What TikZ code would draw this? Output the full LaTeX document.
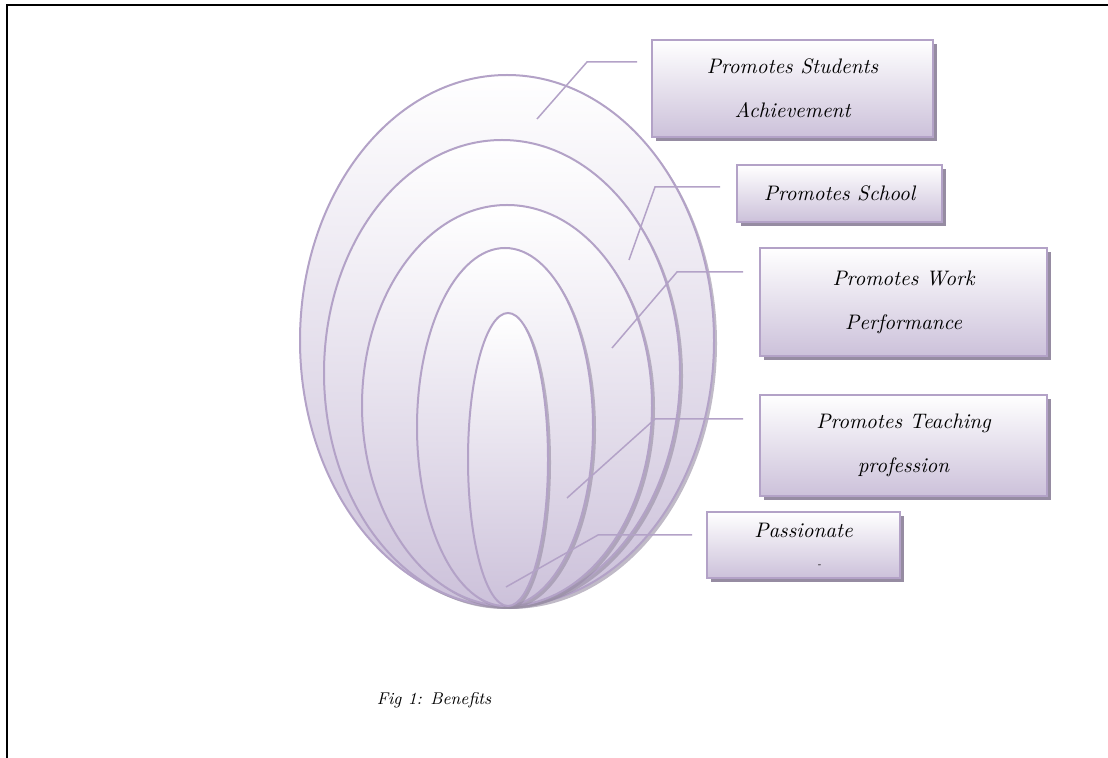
\documentclass[tikz,border=0pt]{standalone}
\usetikzlibrary{positioning,shadows}
\definecolor{ringline}{RGB}{179,162,199}
\definecolor{ringfill}{RGB}{204,193,218}
\definecolor{ringshadow}{RGB}{150,140,162}
\tikzset{
	ring/.style={draw=ringline, line width=1pt, top color=white, bottom color=ringfill,
		drop shadow={shadow xshift=1.5pt, shadow yshift=-1.5pt, fill=ringshadow, opacity=0.6}},
	benefit/.style={draw=ringline, line width=1pt, top color=white, bottom color=ringfill,
		align=center, inner sep=0pt, font=\itshape\fontsize{10.5}{22}\selectfont,
		drop shadow={shadow xshift=2pt, shadow yshift=-2pt, fill=ringshadow, opacity=1}},
	leader/.style={draw=ringline, line width=0.75pt},
}

\begin{document}
\begin{tikzpicture}[x=0.5pt,y=-0.5pt]
	\useasboundingbox (0,0) rectangle (1108,758);
	\draw[line width=0.8pt] (7,758) -- (7,5) -- (1108,5);

	% rings, outer to inner
	\path[ring] (507,340.5) ellipse [x radius=207, y radius=265.5];
	\path[ring] (502,373) ellipse [x radius=178, y radius=233];
	\path[ring] (507,405.5) ellipse [x radius=145, y radius=200.5];
	\path[ring] (505,427) ellipse [x radius=88, y radius=179];
	\path[ring] (508,459.5) ellipse [x radius=40, y radius=146.5];

	% leaders
	\coordinate (a1) at (537,119);
	\coordinate (b1) at (587,62);
	\coordinate (c1) at (637,62);
	\coordinate (a2) at (629,260);
	\coordinate (b2) at (655,187);
	\coordinate (c2) at (720,187);
	\coordinate (a3) at (612,348);
	\coordinate (b3) at (677,272);
	\coordinate (c3) at (743,272);
	\coordinate (a4) at (567,498);
	\coordinate (b4) at (655,419);
	\coordinate (c4) at (743,419);
	\coordinate (a5) at (506,587);
	\coordinate (b5) at (598,535);
	\coordinate (c5) at (692,535);
	\draw[leader] (a1) -- (b1) -- (c1);
	\draw[leader] (a2) -- (b2) -- (c2);
	\draw[leader] (a3) -- (b3) -- (c3);
	\draw[leader] (a4) -- (b4) -- (c4);
	\draw[leader] (a5) -- (b5) -- (c5);

	% boxes
	\node[benefit, minimum width=140.5pt, minimum height=48.5pt] (achieve) at (792.5,88.5) {Promotes Students\\Achievement};
	\node[benefit, minimum width=102.5pt, minimum height=28.5pt] (school) at (839.5,193.5) {Promotes School};
	\node[benefit, minimum width=143.5pt, minimum height=54pt] (work) at (903.5,302) {Promotes Work\\Performance};
	\node[benefit, minimum width=143.5pt, minimum height=50.5pt] (teach) at (903.5,445.5) {Promotes Teaching\\profession};
	\node[benefit, minimum width=96.5pt, minimum height=33pt, font=\itshape\fontsize{10.5}{15}\selectfont] (passion) at (803.5,545) {Passionate\\\hspace*{1.5em}{\tiny -}};

	\node[font=\itshape\fontsize{8.5}{10}\selectfont] (caption) at (434,700) {Fig 1: Benefits};
\end{tikzpicture}
\end{document}
